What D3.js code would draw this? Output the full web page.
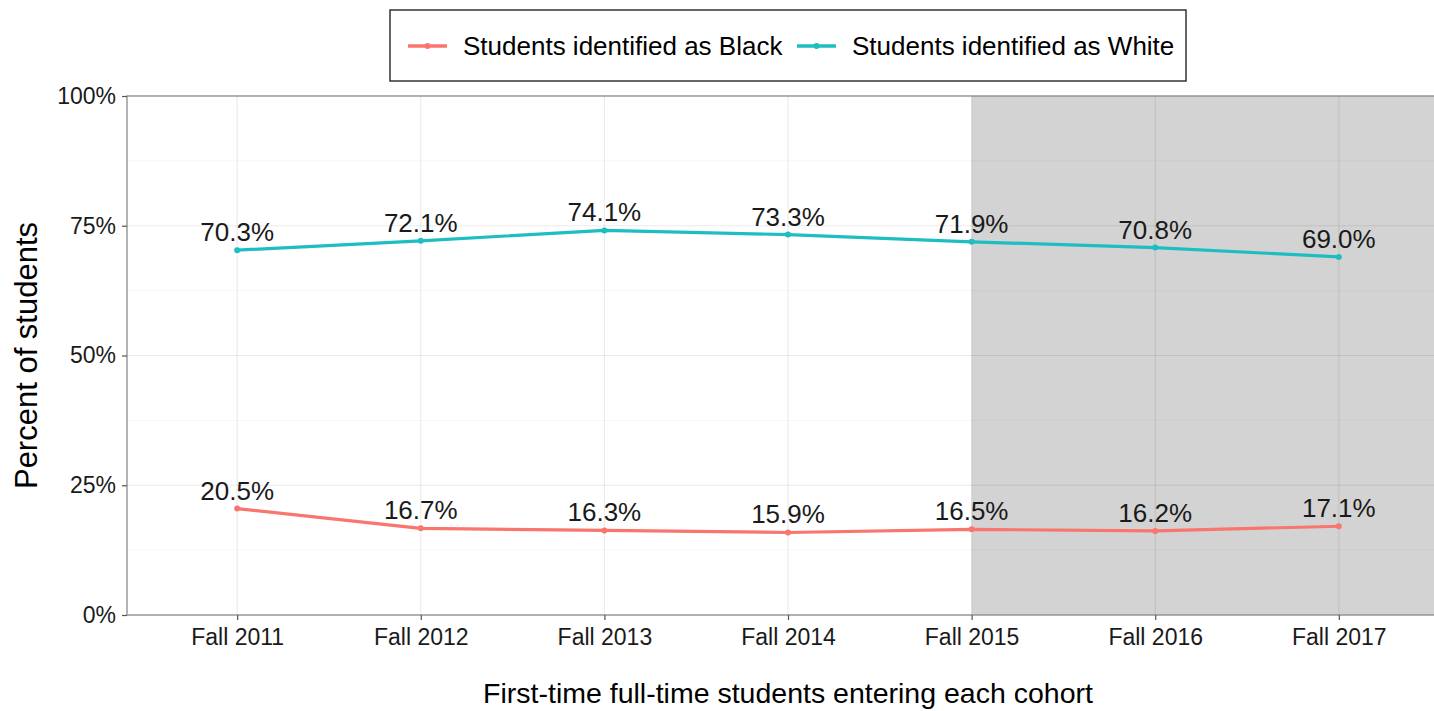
<!DOCTYPE html>
<html>
<head>
<meta charset="utf-8">
<script src="https://cdn.jsdelivr.net/npm/d3@7"></script>
<style>
  body { margin: 0; background: #fff; }
  text { font-family: "Liberation Sans", Arial, sans-serif; fill: #000; }
</style>
</head>
<body>
<div id="chart"></div>
<script>
// data
var cohorts = ["Fall 2011", "Fall 2012", "Fall 2013", "Fall 2014", "Fall 2015", "Fall 2016", "Fall 2017"];
var blackPct = [20.5, 16.7, 16.3, 15.9, 16.5, 16.2, 17.1];
var whitePct = [70.3, 72.1, 74.1, 73.3, 71.9, 70.8, 69.0];
var seriesNames = ["Students identified as Black", "Students identified as White"];
var seriesColors = ["#F8766D", "#1DBDC2"];
var yTicks = [0, 25, 50, 75, 100];
var yMinor = [12.5, 37.5, 62.5, 87.5];
var shadeFrom = "Fall 2015";

var W = 1434, H = 711;
var panel = { left: 127, top: 96, right: 1449, bottom: 615 };

var svg = d3.select("#chart").append("svg")
  .attr("width", W).attr("height", H);

// scales (discrete axis with ggplot-like 0.6 expansion)
var x = d3.scalePoint().domain(cohorts)
  .range([panel.left, panel.right]).padding(0.6);
var y = d3.scaleLinear().domain([0, 100]).range([panel.bottom, panel.top]);

// panel background + shaded region
svg.append("rect")
  .attr("x", panel.left).attr("y", panel.top)
  .attr("width", panel.right - panel.left).attr("height", panel.bottom - panel.top)
  .style("fill", "#fff");
svg.append("rect")
  .attr("x", x(shadeFrom)).attr("y", panel.top)
  .attr("width", panel.right - x(shadeFrom)).attr("height", panel.bottom - panel.top)
  .style("fill", "#d3d3d3");

// grid
var grid = svg.append("g");
grid.selectAll(".minor").data(yMinor).enter().append("line")
  .attr("x1", panel.left).attr("x2", panel.right)
  .attr("y1", function(d) { return y(d); }).attr("y2", function(d) { return y(d); })
  .style("stroke", "#000").style("stroke-opacity", 0.035).style("stroke-width", 1);
grid.selectAll(".major").data(yTicks).enter().append("line")
  .attr("x1", panel.left).attr("x2", panel.right)
  .attr("y1", function(d) { return y(d); }).attr("y2", function(d) { return y(d); })
  .style("stroke", "#000").style("stroke-opacity", 0.08).style("stroke-width", 1.2);
grid.selectAll(".vert").data(cohorts).enter().append("line")
  .attr("x1", function(d) { return x(d); }).attr("x2", function(d) { return x(d); })
  .attr("y1", panel.top).attr("y2", panel.bottom)
  .style("stroke", "#000").style("stroke-opacity", 0.08).style("stroke-width", 1.2);

// panel border
svg.append("rect")
  .attr("x", panel.left).attr("y", panel.top)
  .attr("width", panel.right - panel.left).attr("height", panel.bottom - panel.top)
  .style("fill", "none").style("stroke", "#8c8c8c").style("stroke-width", 1.3);

// axes
var yAxis = svg.append("g")
  .attr("transform", "translate(" + panel.left + ",0)")
  .call(d3.axisLeft(y).tickValues(yTicks).tickSize(5).tickPadding(6)
    .tickFormat(function(d) { return d + "%"; }));
var xAxis = svg.append("g")
  .attr("transform", "translate(0," + panel.bottom + ")")
  .call(d3.axisBottom(x).tickSize(5).tickPadding(9));
[yAxis, xAxis].forEach(function(a) {
  a.select(".domain").remove();
  a.selectAll(".tick line").style("stroke", "#555").style("stroke-width", 1.2);
  a.selectAll(".tick text").style("font-size", "23px").style("fill", "#1a1a1a")
    .style("font-family", "'Liberation Sans', Arial, sans-serif");
});

// lines
var series = [blackPct, whitePct];
var line = d3.line()
  .x(function(d, i) { return x(cohorts[i]); })
  .y(function(d) { return y(d); });

series.forEach(function(vals, s) {
  svg.append("path").datum(vals)
    .attr("d", line)
    .style("fill", "none").style("stroke", seriesColors[s]).style("stroke-width", 3.2)
    .style("stroke-linejoin", "round");
  svg.selectAll(".pt" + s).data(vals).enter().append("circle")
    .attr("cx", function(d, i) { return x(cohorts[i]); })
    .attr("cy", function(d) { return y(d); })
    .attr("r", 3)
    .style("fill", seriesColors[s]);
  svg.selectAll(".lab" + s).data(vals).enter().append("text")
    .attr("x", function(d, i) { return x(cohorts[i]); })
    .attr("y", function(d) { return y(d) - 9; })
    .style("text-anchor", "middle").style("font-size", "26px").style("fill", "#1a1a1a")
    .text(function(d) { return d.toFixed(1) + "%"; });
});

// axis titles
svg.append("text")
  .attr("x", (panel.left + panel.right) / 2).attr("y", 703)
  .style("text-anchor", "middle").style("font-size", "28.5px")
  .text("First-time full-time students entering each cohort");
svg.append("text")
  .attr("transform", "translate(37," + ((panel.top + panel.bottom) / 2) + ") rotate(-90)")
  .style("text-anchor", "middle").style("font-size", "31px")
  .text("Percent of students");

// legend
var legend = svg.append("g");
legend.append("rect")
  .attr("x", 390).attr("y", 10).attr("width", 796).attr("height", 71)
  .style("fill", "#fff").style("stroke", "#333").style("stroke-width", 1.5);
var keyX = [408, 797];
seriesNames.forEach(function(name, s) {
  var g = legend.append("g").attr("transform", "translate(" + keyX[s] + ",46)");
  g.append("line").attr("x1", 0).attr("x2", 39).attr("y1", 0).attr("y2", 0)
    .style("stroke", seriesColors[s]).style("stroke-width", 3.5);
  g.append("circle").attr("cx", 19.5).attr("cy", 0).attr("r", 3).style("fill", seriesColors[s]);
  g.append("text").attr("x", 55).attr("y", 9).style("font-size", "26px").text(name);
});
</script>
</body>
</html>
